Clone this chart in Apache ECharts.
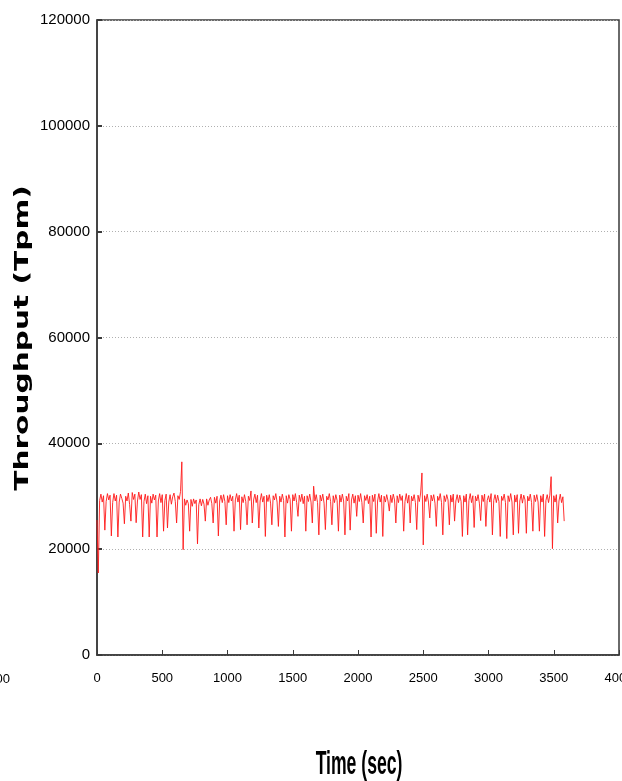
<!DOCTYPE html>
<html>
<head>
<meta charset="utf-8">
<script src="https://cdn.jsdelivr.net/npm/echarts@6/dist/echarts.min.js"></script>
<style>
    html, body { margin: 0; padding: 0; background: #fff; }
    #chart { width: 622px; height: 781px; }
</style>
</head>
<body>
<div id="chart"></div>
<script>
// sampled every 10 sec, starting at t = 0
const sampleStep = 10
const throughput = [
    25500, 15500, 29200, 30400, 28900, 30100, 23600, 29000, 30500, 29300,
    30200, 22500, 28800, 30500, 29100, 30200, 22300, 28900, 30400, 29600,
    28700, 24800, 30000, 29100, 30600, 28400, 25300, 30700, 29400, 30400,
    25000, 29100, 30800, 29400, 30300, 22300, 29000, 30400, 28600, 30100,
    22300, 30000, 28700, 30400, 29300, 30200, 22300, 29100, 30500, 28800,
    30300, 23400, 29200, 30400, 24000, 28900, 30300, 28500, 29900, 30600,
    29000, 24950, 30100, 29400, 30900, 36500, 19900, 29500, 28300, 29300,
    28600, 23400, 29400, 28100, 29500, 28600, 29300, 21000, 28400, 29500,
    28200, 29400, 28500, 25300, 29500, 28300, 29300, 29800, 28600, 24950,
    29800, 28700, 30000, 22500, 29100, 30200, 28800, 30300, 29000, 24600,
    30100, 28800, 30300, 29100, 30000, 23400, 29300, 30500, 28900, 30200,
    23700, 29900, 28800, 30300, 29000, 24600, 30000, 29200, 31000, 24950,
    29300, 30400, 28800, 30200, 24000, 29100, 30500, 28900, 30000, 22400,
    30200, 29000, 30300, 28700, 24600, 30100, 29300, 30500, 28900, 24300,
    30000, 28900, 30400, 29200, 22300, 30100, 28700, 30300, 29400, 23400,
    30300, 29100, 30500, 28800, 26200, 30200, 29000, 30400, 28600, 30000,
    23400, 30100, 29000, 30400, 28900, 24950, 31900, 29100, 30300, 28800,
    22700, 30200, 29100, 30400, 28700, 23700, 30000, 29300, 30500, 29000,
    24600, 30100, 28800, 30300, 29200, 23400, 30200, 28900, 30400, 29100,
    22700, 30000, 29100, 30500, 23600, 29300, 30400, 28700, 30100, 26200,
    30200, 29000, 30500, 28800, 24950, 30100, 29200, 30300, 28600, 30000,
    22300, 30200, 29000, 30400, 23000, 29100, 30500, 28900, 30200, 22400,
    30000, 28900, 30300, 29100, 27200, 30200, 28800, 30400, 29300, 24950,
    30100, 28800, 30400, 29200, 30100, 23400, 29000, 30500, 28700, 30200,
    24950, 30000, 29100, 30300, 28800, 23700, 30200, 29000, 30600, 34400,
    20800, 30100, 29000, 30400, 28900, 25900, 30200, 29100, 30300, 28700,
    24300, 30000, 29200, 30500, 28800, 22700, 30100, 29000, 30300, 29300,
    24600, 30200, 28900, 30400, 25300, 29100, 30300, 28800, 30200, 29000,
    22400, 30100, 28900, 30400, 22700, 29200, 30500, 28800, 30100, 24100,
    30000, 29100, 30300, 28700, 25400, 30200, 29000, 30400, 24300, 29200,
    30100, 28900, 30500, 22700, 29200, 30300, 28800, 30200, 29000, 22400,
    30000, 29200, 30400, 28800, 22000, 30100, 29000, 30500, 28900, 22700,
    30200, 28900, 30300, 23000, 29100, 30400, 28700, 30200, 29300, 23000,
    30000, 29100, 30400, 28800, 23400, 30200, 29000, 30300, 28900, 23400,
    30100, 28900, 30400, 22400, 29200, 30300, 28800, 30200, 33700, 20100,
    30100, 28900, 30300, 24950, 29100, 30400, 28800, 29900, 25300
]
const xTitle = 'Time (sec)'
const yTitle = 'Throughput (Tpm)'

const sans = "'Liberation Sans', Arial, sans-serif"
const chart = echarts.init(document.getElementById('chart'))
const seriesData = throughput.map((v, i) => [i * sampleStep, v])

chart.setOption({
    animation: false,
    grid: {
        left: 97,
        right: 3,
        top: 20,
        bottom: 126,
        outerBoundsMode: 'none',
        containLabel: false,
        show: true,
        borderColor: '#3a3a3a',
        borderWidth: 1.5
    },
    xAxis: {
        type: 'value',
        min: 0,
        max: 4000,
        interval: 500,
        axisLine: { lineStyle: { color: '#3a3a3a', width: 1.5 } },
        axisTick: { inside: true, length: 5, lineStyle: { color: '#3a3a3a' } },
        axisLabel: {
            margin: 17,
            color: '#000',
            fontFamily: sans,
            fontSize: 13,
            showMaxLabel: true,
            formatter: v => String(v)
        },
        splitLine: { show: false }
    },
    yAxis: {
        type: 'value',
        min: 0,
        max: 120000,
        interval: 20000,
        axisLine: { show: true, lineStyle: { color: '#3a3a3a', width: 1.5 } },
        axisTick: { show: true, inside: true, length: 5, lineStyle: { color: '#3a3a3a', width: 2 } },
        axisLabel: {
            margin: 7,
            color: '#000',
            fontFamily: sans,
            fontSize: 15,
            formatter: v => String(v)
        },
        splitLine: { lineStyle: { color: '#b0b0b0', type: [1, 2], width: 1 } }
    },
    series: [{
        type: 'line',
        data: seriesData,
        showSymbol: false,
        lineStyle: { color: '#ff1a1a', width: 0.9 },
        z: 3
    }],
    graphic: [
        {
            type: 'text',
            x: 23,
            y: 338,
            rotation: Math.PI / 2,
            scaleX: 1.48,
            style: {
                text: yTitle,
                font: "bold 20px 'DejaVu Sans', sans-serif",
                fill: '#000',
                textAlign: 'center',
                textVerticalAlign: 'middle'
            }
        },
        {
            type: 'text',
            x: 359,
            y: 765,
            scaleX: 0.88,
            scaleY: 1.65,
            style: {
                text: xTitle,
                font: "bold 20px " + sans,
                fill: '#000',
                textAlign: 'center',
                textVerticalAlign: 'middle'
            }
        },
        {
            // label of the neighbouring panel, cut at the page edge
            type: 'text',
            x: 10,
            y: 679,
            style: {
                text: '4000',
                font: "13px " + sans,
                fill: '#000',
                textAlign: 'right',
                textVerticalAlign: 'middle'
            }
        }
    ]
})
</script>
</body>
</html>
